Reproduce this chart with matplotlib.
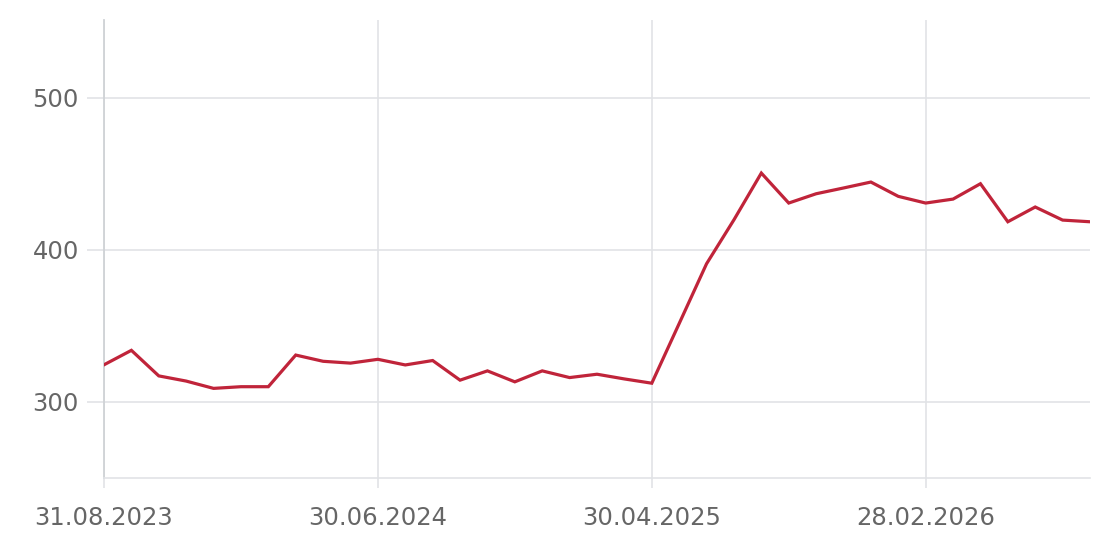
import matplotlib
matplotlib.use("Agg")
import matplotlib.pyplot as plt
import pandas as pd

# month-end values
dates = pd.date_range("2023-08-31", periods=37, freq="ME")
values = [324.4, 333.9, 317.1, 313.7, 308.9, 310.0, 310.0, 330.8, 326.7, 325.5,
          328.0, 324.3, 327.2, 314.3, 320.4, 313.2, 320.4, 316.0, 318.2, 315.1,
          312.3, 351.5, 390.8, 419.7, 450.4, 430.7, 436.8, 440.6, 444.5, 435.1,
          430.7, 433.3, 443.4, 418.4, 428.1, 419.5, 418.4]
tick_every = 10
y_ticks = [300, 400, 500]

grid_col = "#e1e3e6"
text_col = "#666666"

fig = plt.figure(figsize=(11.1, 5.44), dpi=100)
ax = fig.add_axes([104 / 1110, 1 - 478 / 544, (1090 - 104) / 1110, (478 - 20) / 544])

x = list(range(len(dates)))
ax.plot(x, values, color="#c0243a", linewidth=2.3, solid_joinstyle="miter", zorder=3)

ax.set_xlim(0, len(dates) - 1)
ax.set_ylim(250, 551)
tick_pos = x[::tick_every]
ax.set_xticks(tick_pos)
ax.set_xticklabels([dates[i].strftime("%d.%m.%Y") for i in tick_pos])
ax.set_yticks(y_ticks)
ax.grid(True, color=grid_col, linewidth=1.2)

for s in ["top", "right"]:
    ax.spines[s].set_visible(False)
ax.spines["left"].set_color("#cfd2d6")
ax.spines["left"].set_linewidth(1.3)
ax.spines["bottom"].set_color(grid_col)
ax.spines["bottom"].set_linewidth(1.2)

ax.tick_params(axis="x", length=7, width=1.2, color=grid_col, pad=13,
               labelsize=17.5, labelcolor=text_col)
ax.tick_params(axis="y", length=12, width=1.2, color=grid_col, pad=6,
               labelsize=17.5, labelcolor=text_col)

fig.savefig("out.png", dpi=100)
